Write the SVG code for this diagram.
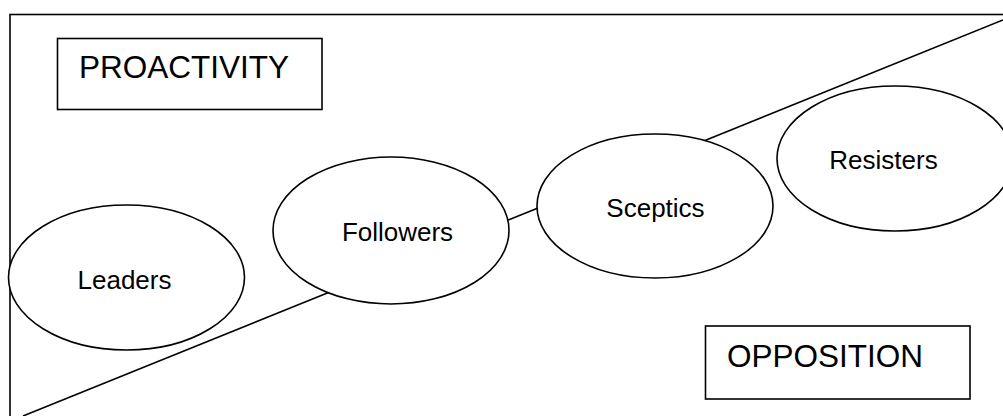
<svg xmlns="http://www.w3.org/2000/svg" width="1003" height="416" viewBox="0 0 1003 416">
<style>
.s{fill:none;stroke:#000;stroke-width:1.6}
.n{fill:#fff;stroke:#000;stroke-width:1.6}
.t{font-family:"Liberation Sans",Arial,sans-serif;fill:#000}
.big{font-size:31.5px}
.lbl{font-size:26px;text-anchor:middle}
</style>
<rect width="1003" height="416" fill="#fff"/>
<rect id="frame" class="s" x="10" y="14.5" width="1010" height="420"/>
<g id="connectors">
<line class="s" x1="23" y1="416" x2="1003" y2="20"/>
</g>
<g id="proactivity">
<rect class="n" x="57.5" y="38.5" width="264.5" height="71"/>
<text class="t big" x="79" y="78">PROACTIVITY</text>
</g>
<g id="opposition">
<rect class="n" x="705.5" y="326" width="264.5" height="73"/>
<text class="t big" x="727" y="367">OPPOSITION</text>
</g>
<g id="leaders">
<ellipse class="n" cx="126.5" cy="277.5" rx="118" ry="72.5"/>
<text class="t lbl" x="124.5" y="289">Leaders</text>
</g>
<g id="followers">
<ellipse class="n" cx="391" cy="230.5" rx="118" ry="73.5"/>
<text class="t lbl" x="397.5" y="241">Followers</text>
</g>
<g id="sceptics">
<ellipse class="n" cx="655" cy="206" rx="118" ry="72"/>
<text class="t lbl" x="655.5" y="217">Sceptics</text>
</g>
<g id="resisters">
<ellipse class="n" cx="895" cy="158.5" rx="118" ry="72.5"/>
<text class="t lbl" x="883.5" y="169">Resisters</text>
</g>
</svg>
